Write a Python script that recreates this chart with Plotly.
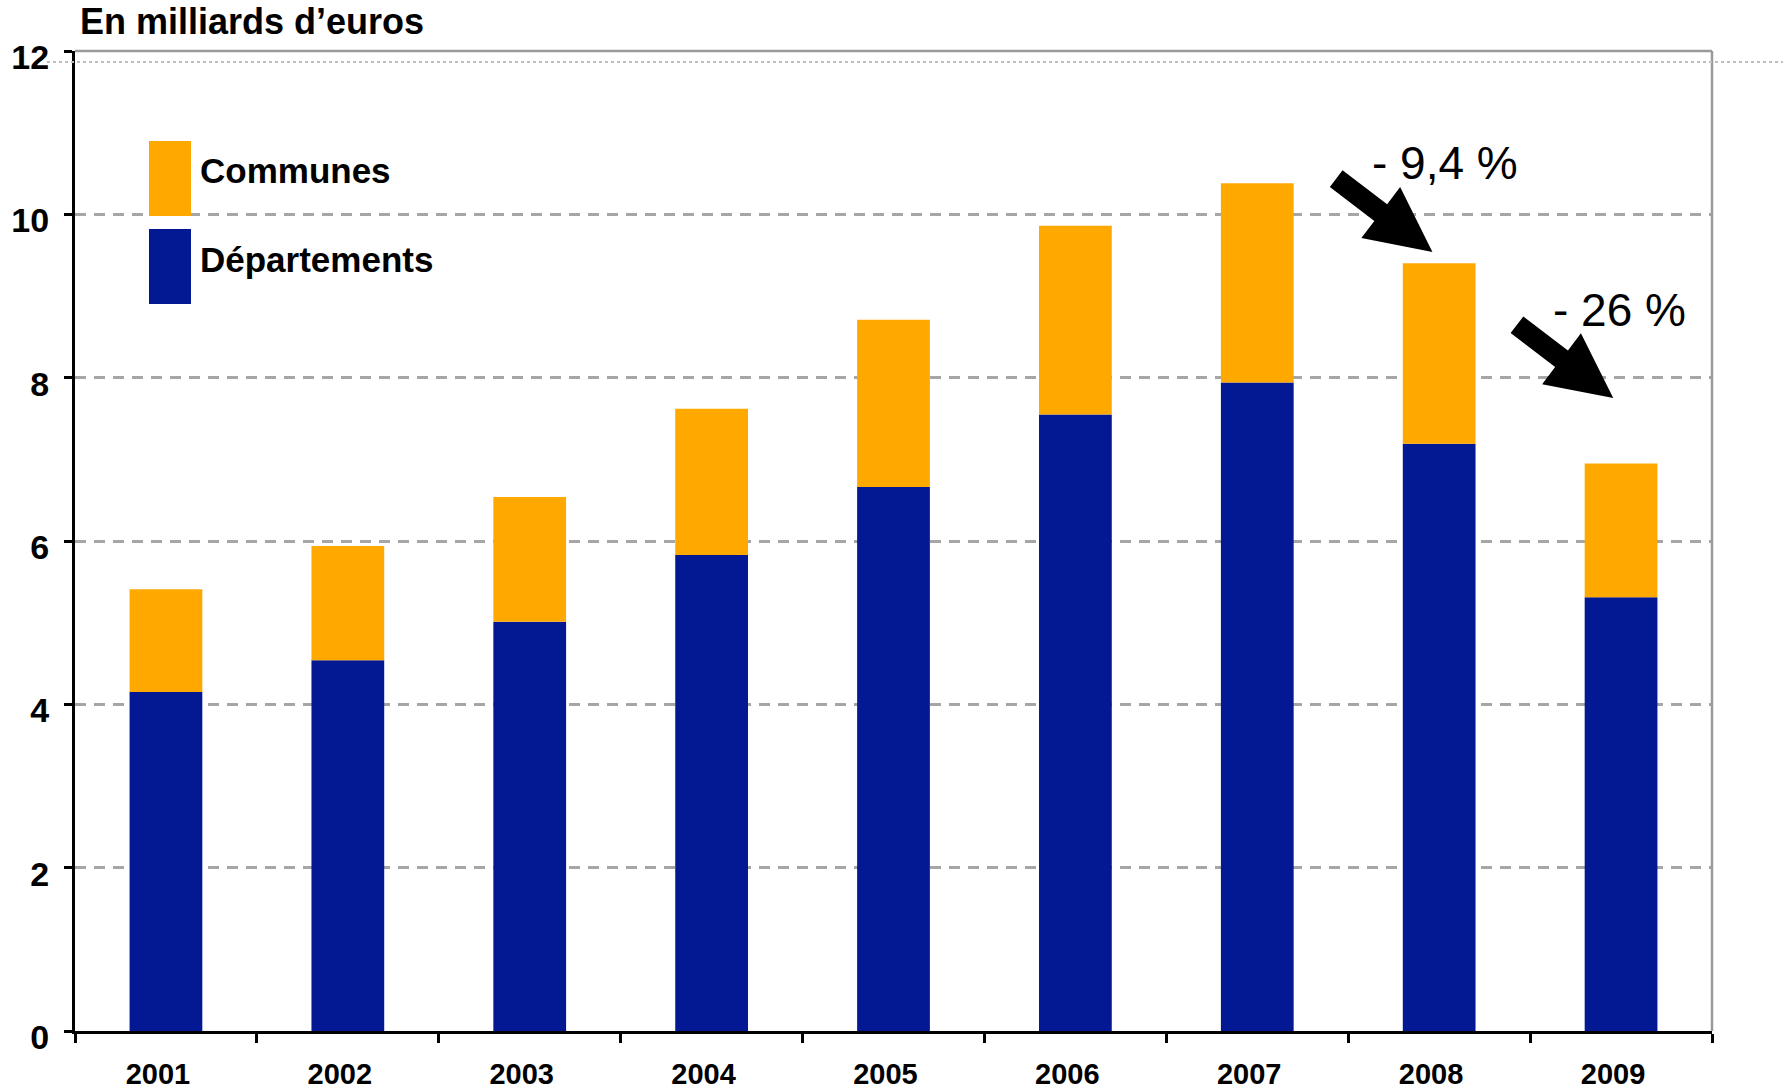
import math
import plotly.graph_objects as go

years = ["2001", "2002", "2003", "2004", "2005", "2006", "2007", "2008", "2009"]
departements = [4.15, 4.54, 5.01, 5.83, 6.66, 7.55, 7.94, 7.19, 5.31]
totals = [5.41, 5.94, 6.54, 7.62, 8.71, 9.86, 10.38, 9.40, 6.95]
communes = [round(t - d, 2) for t, d in zip(totals, departements)]
y_ticks = [0, 2, 4, 6, 8, 10, 12]

ORANGE = "#FFA800"
BLUE = "#031994"
FONT = "Liberation Sans"

# year labels sit slightly left of the bar centres in the original
year_labels = [y + "\u00a0\u00a0" for y in years]

fig = go.Figure()
fig.add_trace(go.Bar(name="Départements", x=year_labels, y=departements,
                     marker=dict(color=BLUE, line=dict(width=0)), width=0.4))
fig.add_trace(go.Bar(name="Communes", x=year_labels, y=communes, base=departements,
                     marker=dict(color=ORANGE, line=dict(width=0)), width=0.4))

L, R, T, B = 75, 71, 51, 58
W, H = 1783, 1089

fig.update_layout(
    width=W, height=H,
    margin=dict(l=L, r=R, t=T, b=B, pad=0, autoexpand=False),
    paper_bgcolor="white", plot_bgcolor="white",
    barmode="overlay", showlegend=False,
    font=dict(family=FONT, color="black"),
)
fig.update_xaxes(
    type="category", range=[-0.5, 8.5], tickson="boundaries", automargin=False,
    ticks="outside", ticklen=9, tickwidth=2.5, tickcolor="black",
    showline=True, linecolor="black", linewidth=3, showgrid=False,
    tickfont=dict(family=FONT, size=29, color="black", weight="bold"),
    ticklabelstandoff=15,
)
fig.update_yaxes(
    range=[0, 12], tickvals=y_ticks, ticktext=[str(v) for v in y_ticks], automargin=False,
    ticks="outside", ticklen=8, tickwidth=2.5, tickcolor="black",
    showline=True, linecolor="black", linewidth=3,
    showgrid=True, gridcolor="#A6A6A6", gridwidth=2.5, griddash="11px,8px",
    zeroline=False,
    tickfont=dict(family=FONT, size=34, color="black", weight="bold"),
    ticklabelstandoff=8, ticklabelshift=6,
)

def px_x(px):
    return (px - L) / (W - L - R)

def px_y(py):
    return (H - B - py) / (H - B - T)


def block_arrow_path(length, angle_deg, head_len, head_w, shaft_w):
    """Block arrow polygon in pixels relative to its tip; angle = pointing direction
    measured clockwise-down from +x (screen)."""
    a = math.radians(angle_deg)
    dx, dy = math.cos(a), -math.sin(a)        # direction in plotly pixel space (y up)
    nx, ny = -dy, dx
    bx, by = -head_len * dx, -head_len * dy   # head base centre
    tx, ty = -length * dx, -length * dy       # tail centre
    hw, sw = head_w / 2, shaft_w / 2
    pts = [
        (0, 0),
        (bx + hw * nx, by + hw * ny),
        (bx + sw * nx, by + sw * ny),
        (tx + sw * nx, ty + sw * ny),
        (tx - sw * nx, ty - sw * ny),
        (bx - sw * nx, by - sw * ny),
        (bx - hw * nx, by - hw * ny),
    ]
    return "M " + " L ".join(f"{x:.1f},{y:.1f}" for x, y in pts) + " Z"

arrow_shape = block_arrow_path(length=121, angle_deg=37.3, head_len=65, head_w=64, shaft_w=21)
arrow_tips = [(6.963, 9.54), (7.957, 7.75)]

shapes = [
    dict(type="line", xref="paper", yref="paper", x0=0, x1=1, y0=1, y1=1,
         line=dict(color="#9A9A9A", width=2.5)),
    dict(type="line", xref="paper", yref="paper", x0=1, x1=1, y0=0, y1=1,
         line=dict(color="#9A9A9A", width=2.5)),
    dict(type="line", xref="paper", yref="paper", x0=px_x(47), x1=px_x(W), y0=px_y(62), y1=px_y(62),
         line=dict(color="#BDBDBD", width=2, dash="dot")),
    dict(type="rect", xref="paper", yref="paper", x0=px_x(149), x1=px_x(191),
         y0=px_y(216), y1=px_y(141), fillcolor=ORANGE, line=dict(width=0)),
    dict(type="rect", xref="paper", yref="paper", x0=px_x(149), x1=px_x(191),
         y0=px_y(304), y1=px_y(229), fillcolor=BLUE, line=dict(width=0)),
]
for tx, ty in arrow_tips:
    shapes.append(dict(type="path", xref="x", yref="y", xsizemode="pixel", ysizemode="pixel",
                       xanchor=tx, yanchor=ty, path=arrow_shape,
                       fillcolor="black", line=dict(width=0), layer="above"))
fig.update_layout(shapes=shapes)

annotations = [
    dict(text="En milliards d’euros", xref="paper", yref="paper", x=px_x(78), y=px_y(22),
         xanchor="left", yanchor="middle", showarrow=False,
         font=dict(family=FONT, size=36, color="black", weight="bold")),
    dict(text="Communes", xref="paper", yref="paper", x=px_x(198), y=px_y(170),
         xanchor="left", yanchor="middle", showarrow=False,
         font=dict(family=FONT, size=35, color="black", weight="bold")),
    dict(text="Départements", xref="paper", yref="paper", x=px_x(198), y=px_y(259),
         xanchor="left", yanchor="middle", showarrow=False,
         font=dict(family=FONT, size=35, color="black", weight="bold")),
    dict(text="- 9,4 %", x=7.03, y=10.63, xref="x", yref="y", showarrow=False,
         xanchor="center", yanchor="middle", font=dict(family=FONT, size=46, color="black")),
    dict(text="- 26 %", x=7.99, y=8.83, xref="x", yref="y", showarrow=False,
         xanchor="center", yanchor="middle", font=dict(family=FONT, size=46, color="black")),
]
fig.update_layout(annotations=annotations)

fig.write_html("out.html", config={"displayModeBar": False},
               post_script="document.body.style.margin='0';document.body.style.overflow='hidden';")
